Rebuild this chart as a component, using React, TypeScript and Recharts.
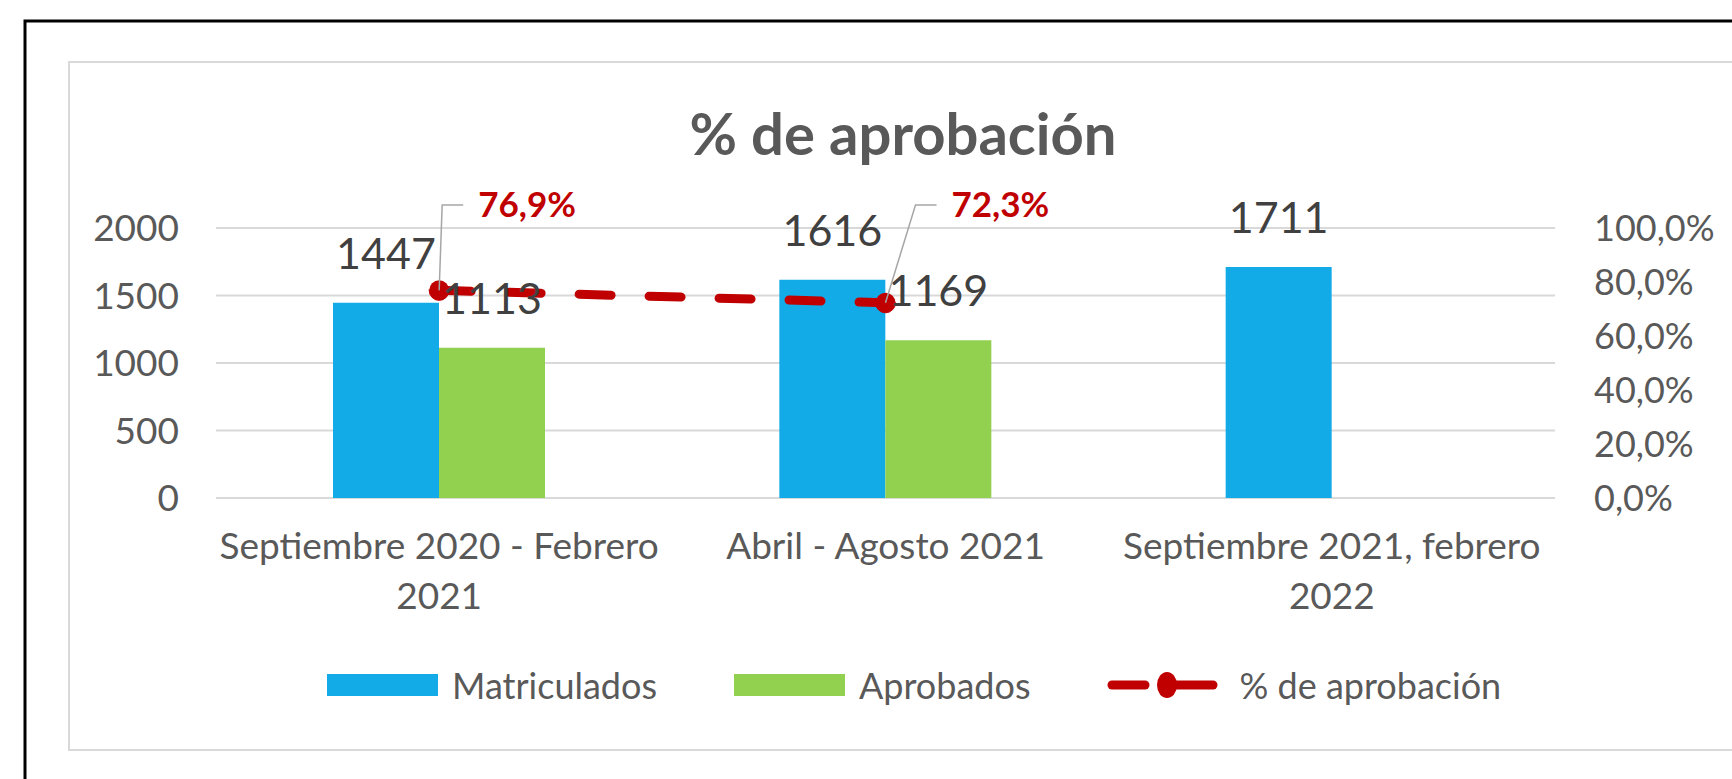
import React from "react";
import {
  ComposedChart,
  Bar,
  Line,
  XAxis,
  YAxis,
  CartesianGrid,
  LabelList,
  Legend,
} from "recharts";

// values
const categories = [
  "Septiembre 2020 - Febrero 2021",
  "Abril - Agosto 2021",
  "Septiembre 2021, febrero 2022",
];
const matriculados = [1447, 1616, 1711];
const aprobados: (number | null)[] = [1113, 1169, null];
const aprobacion: (number | null)[] = [0.769, 0.723, null];
const leftTicks = [0, 500, 1000, 1500, 2000];
const rightTicks = [0, 0.2, 0.4, 0.6, 0.8, 1];
const seriesNames = ["Matriculados", "Aprobados", "% de aprobación"];

const data = categories.map((name, i) => ({
  name,
  matriculados: matriculados[i],
  aprobados: aprobados[i],
  aprobacion: aprobacion[i],
}));

const FONT = "Lato, 'Open Sans', sans-serif";
const BLUE = "#12abe8";
const GREEN = "#92d050";
const RED = "#c00000";
const AXIS_TEXT = "#595959";
const GRID = "#d9d9d9";

const pct = (v: number) => (v * 100).toFixed(1).replace(".", ",") + "%";

// long category names break before the last word, like the original
function CategoryTick({ x, y, payload }: any) {
  const text = String(payload.value);
  const words = text.split(" ");
  const lines = text.length > 22 ? [words.slice(0, -1).join(" "), words[words.length - 1]] : [text];
  return (
    <text x={x} y={y} textAnchor="middle" fill={AXIS_TEXT} fontSize={37} fontFamily={FONT}>
      {lines.map((l, i) => (
        <tspan key={i} x={x} dy={i === 0 ? 53 : 50}>
          {l}
        </tspan>
      ))}
    </text>
  );
}

// % labels sit above the plot with a grey leader line back to the point
function PctLabel(props: any) {
  const x = props.x ?? props.viewBox?.x;
  const y = props.y ?? props.viewBox?.y;
  const { value, index } = props;
  if (value == null || x == null) return null;
  const kneeX = x + (index === 0 ? 3 : 30);
  const kneeY = 205;
  return (
    <g>
      <polyline
        points={`${x},${y} ${kneeX},${kneeY} ${kneeX + 21},${kneeY}`}
        fill="none"
        stroke="#a6a6a6"
        strokeWidth={1.5}
      />
      <text x={kneeX + 36} y={217} fill={RED} fontSize={35} fontWeight="bold" fontFamily={FONT}>
        {pct(value)}
      </text>
    </g>
  );
}

function LegendContent({ payload }: any) {
  const items = [...(payload || [])].sort(
    (a: any, b: any) => seriesNames.indexOf(a.value) - seriesNames.indexOf(b.value)
  );
  return (
    <div style={{ display: "flex", alignItems: "center", fontFamily: FONT, fontSize: 36, color: AXIS_TEXT }}>
      {items.map((item: any, i: number) => (
        <div key={i} style={{ display: "flex", alignItems: "center", marginRight: 77 }}>
          {item.type === "line" ? (
            <svg width={112} height={30} style={{ marginRight: 20 }}>
              <line x1={5} y1={15} x2={38} y2={15} stroke={RED} strokeWidth={9} strokeLinecap="round" />
              <line x1={60} y1={15} x2={106} y2={15} stroke={RED} strokeWidth={9} strokeLinecap="round" />
              <ellipse cx={60} cy={15} rx={10} ry={13} fill={RED} />
            </svg>
          ) : (
            <span style={{ display: "inline-block", width: 111, height: 22, background: item.color, marginRight: 14 }} />
          )}
          <span>{item.value}</span>
        </div>
      ))}
    </div>
  );
}

export default function App() {
  return (
    <div style={{ position: "absolute", left: 0, top: 0, width: 1732, height: 779, overflow: "hidden", background: "#fff" }}>
      {/* frame + title */}
      <svg width={1732} height={779} style={{ position: "absolute", left: 0, top: 0 }}>
        <rect x={25} y={21} width={1800} height={900} fill="none" stroke="#000" strokeWidth={3} />
        <rect x={69} y={62} width={1700} height={688} fill="none" stroke={GRID} strokeWidth={2} />
        <text x={903} y={155} textAnchor="middle" fill={AXIS_TEXT} fontSize={58} fontWeight="bold" fontFamily={FONT}>
          % de aprobación
        </text>
      </svg>

      <div style={{ position: "absolute", left: 0, top: 0 }}>
        <ComposedChart
          width={1732}
          height={779}
          data={data}
          margin={{ top: 228, right: 77, bottom: 181, left: 116 }}
          barGap={0}
        >
          <CartesianGrid yAxisId="left" vertical={false} stroke={GRID} strokeWidth={2} />
          <XAxis
            dataKey="name"
            height={100}
            axisLine={false}
            tickLine={false}
            interval={0}
            tick={<CategoryTick />}
          />
          <YAxis
            yAxisId="left"
            width={100}
            domain={[0, 2000]}
            ticks={leftTicks}
            axisLine={false}
            tickLine={false}
            tickMargin={31}
            tick={{ fill: AXIS_TEXT, fontSize: 37, fontFamily: FONT }}
          />
          <YAxis
            yAxisId="right"
            orientation="right"
            width={100}
            domain={[0, 1]}
            ticks={rightTicks}
            tickFormatter={pct}
            axisLine={false}
            tickLine={false}
            tickMargin={33}
            tick={{ fill: AXIS_TEXT, fontSize: 36, fontFamily: FONT, textAnchor: "start" }}
          />
          <Bar yAxisId="left" dataKey="matriculados" name={seriesNames[0]} fill={BLUE} barSize={106} isAnimationActive={false}>
            <LabelList dataKey="matriculados" position="top" offset={34} fill="#404040" fontSize={43} fontFamily={FONT} />
          </Bar>
          <Bar yAxisId="left" dataKey="aprobados" name={seriesNames[1]} fill={GREEN} barSize={106} isAnimationActive={false}>
            <LabelList dataKey="aprobados" position="top" offset={34} fill="#404040" fontSize={43} fontFamily={FONT} />
          </Bar>
          <Line
            yAxisId="right"
            dataKey="aprobacion"
            name={seriesNames[2]}
            type="linear"
            stroke={RED}
            strokeWidth={9}
            strokeDasharray="32 38"
            strokeLinecap="round"
            dot={{ r: 10, fill: RED, stroke: RED, strokeWidth: 1 }}
            legendType="line"
            isAnimationActive={false}
          >
            <LabelList dataKey="aprobacion" content={<PctLabel />} />
          </Line>
          <Legend
            layout="horizontal"
            align="center"
            verticalAlign="middle"
            wrapperStyle={{ left: 327, top: 663, width: "auto" }}
            content={<LegendContent />}
          />
        </ComposedChart>
      </div>
    </div>
  );
}
